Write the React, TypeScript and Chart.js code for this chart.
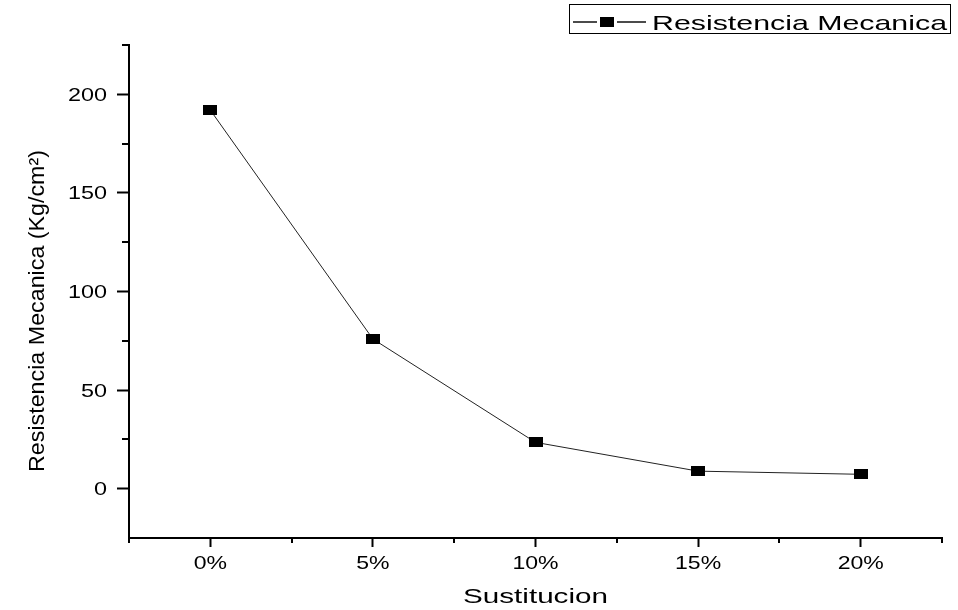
import React, { useEffect, useRef } from 'react';
import { Chart, registerables } from 'chart.js';

Chart.register(...registerables);

const categories = ['0%', '5%', '10%', '15%', '20%'];
const resistenciaValues = [192, 75.9, 23.5, 8.9, 7.3];
const seriesLabel = 'Resistencia Mecanica';
const yMajorTicks = [0, 50, 100, 150, 200];
const yMinorTicks = [25, 75, 125, 175, 225];
const yMin = -25;
const yMax = 225;
const xTitle = 'Sustitucion';
const yTitle = 'Resistencia Mecanica (Kg/cm²)';

const FONT = '"Liberation Sans", Arial, Helvetica, sans-serif';

function makeMarker(): HTMLCanvasElement {
  const c = document.createElement('canvas');
  c.width = 14;
  c.height = 10;
  const cx = c.getContext('2d')!;
  cx.fillStyle = '#000';
  cx.fillRect(0, 0, 14, 10);
  return c;
}

function drawText(
  ctx: CanvasRenderingContext2D,
  text: string,
  x: number,
  y: number,
  size: number,
  align: CanvasTextAlign,
  sx: number
) {
  ctx.save();
  ctx.font = `${size}px ${FONT}`;
  ctx.fillStyle = '#000';
  ctx.textBaseline = 'alphabetic';
  ctx.textAlign = align;
  ctx.translate(x, y);
  ctx.scale(sx, 1);
  ctx.fillText(text, 0, 0);
  ctx.restore();
}

function fitScale(ctx: CanvasRenderingContext2D, text: string, size: number, target: number) {
  ctx.save();
  ctx.font = `${size}px ${FONT}`;
  const w = ctx.measureText(text).width;
  ctx.restore();
  return w > 0 ? target / w : 1;
}

const decorPlugin = {
  id: 'decor',
  afterDraw(chart: any) {
    const ctx: CanvasRenderingContext2D = chart.ctx;
    const xs = chart.scales.x;
    const ys = chart.scales.y;
    const area = chart.chartArea;
    ctx.save();
    ctx.strokeStyle = '#000';
    ctx.lineWidth = 2;
    // minor ticks on x (category boundaries)
    for (let i = 0; i <= categories.length; i++) {
      const px = Math.round(xs.getPixelForValue(i - 0.5));
      ctx.beginPath();
      ctx.moveTo(px, area.bottom);
      ctx.lineTo(px, area.bottom + 5);
      ctx.stroke();
    }
    // minor ticks on y
    for (const v of yMinorTicks) {
      const py = Math.round(ys.getPixelForValue(v));
      ctx.beginPath();
      ctx.moveTo(area.left, py);
      ctx.lineTo(area.left - 7, py);
      ctx.stroke();
    }
    ctx.restore();

    // y tick labels
    for (const t of ys.ticks) {
      const py = ys.getPixelForValue(t.value);
      drawText(ctx, String(t.value), 107, py + 6.4, 18, 'right', 1.3);
    }
    // x tick labels
    categories.forEach((c, i) => {
      const px = xs.getPixelForTick(i);
      drawText(ctx, c, px, 568.5, 18, 'center', 1.28);
    });
    // x title
    const kx = fitScale(ctx, xTitle, 21, 145);
    drawText(ctx, xTitle, (area.left + area.right) / 2, 603, 21, 'center', kx);

    // y title (rotated)
    const ky = fitScale(ctx, yTitle, 22, 322);
    ctx.save();
    ctx.font = `22px ${FONT}`;
    ctx.fillStyle = '#000';
    ctx.textAlign = 'center';
    ctx.textBaseline = 'alphabetic';
    ctx.translate(44, 311);
    ctx.rotate(-Math.PI / 2);
    ctx.scale(ky, 1);
    ctx.fillText(yTitle, 0, 0);
    ctx.restore();

    // legend
    const label = chart.data.datasets[0].label as string;
    ctx.save();
    ctx.strokeStyle = '#000';
    ctx.lineWidth = 1;
    ctx.strokeRect(569.5, 4.5, 381, 29);
    ctx.strokeStyle = '#111';
    ctx.lineWidth = 1.3;
    ctx.beginPath();
    ctx.moveTo(573, 22);
    ctx.lineTo(597, 22);
    ctx.moveTo(617, 22);
    ctx.lineTo(646, 22);
    ctx.stroke();
    ctx.fillStyle = '#000';
    ctx.fillRect(600, 17, 14, 10);
    ctx.restore();
    const kl = fitScale(ctx, label, 21, 295);
    drawText(ctx, label, 652, 30, 21, 'left', kl);
  },
};

export default function App() {
  const canvasRef = useRef<HTMLCanvasElement | null>(null);

  useEffect(() => {
    const canvas = canvasRef.current;
    if (!canvas) return;
    const marker = makeMarker();
    const chart = new Chart(canvas, {
      type: 'line',
      data: {
        labels: categories,
        datasets: [
          {
            label: seriesLabel,
            data: resistenciaValues,
            borderColor: '#222',
            borderWidth: 1,
            backgroundColor: '#000',
            pointStyle: marker as any,
            pointRadius: 7,
            tension: 0,
            fill: false,
          },
        ],
      },
      options: {
        responsive: false,
        animation: false,
        devicePixelRatio: 1,
        layout: { padding: { top: 45, right: 16, left: 0, bottom: 0 } },
        plugins: {
          legend: { display: false },
          tooltip: { enabled: false },
        },
        scales: {
          x: {
            type: 'category',
            offset: true,
            grid: {
              display: true,
              drawOnChartArea: false,
              drawTicks: true,
              tickLength: 9,
              tickWidth: 2,
              tickColor: '#000',
              offset: false,
            },
            border: { display: true, color: '#000', width: 2 },
            ticks: { display: false },
            afterFit: (s: any) => {
              s.height = 72;
            },
          },
          y: {
            type: 'linear',
            min: yMin,
            max: yMax,
            grid: {
              display: true,
              drawOnChartArea: false,
              drawTicks: true,
              tickLength: 12,
              tickWidth: 2,
              tickColor: '#000',
            },
            border: { display: true, color: '#000', width: 2 },
            ticks: { display: false },
            afterBuildTicks: (s: any) => {
              s.ticks = yMajorTicks.map((v) => ({ value: v }));
            },
            afterFit: (s: any) => {
              s.width = 129;
            },
          },
        },
      } as any,
      plugins: [decorPlugin],
    });
    return () => chart.destroy();
  }, []);

  return (
    <div style={{ position: 'absolute', left: 0, top: 0, width: 958, height: 610, background: '#fff' }}>
      <canvas ref={canvasRef} width={958} height={610} style={{ display: 'block' }} />
    </div>
  );
}
